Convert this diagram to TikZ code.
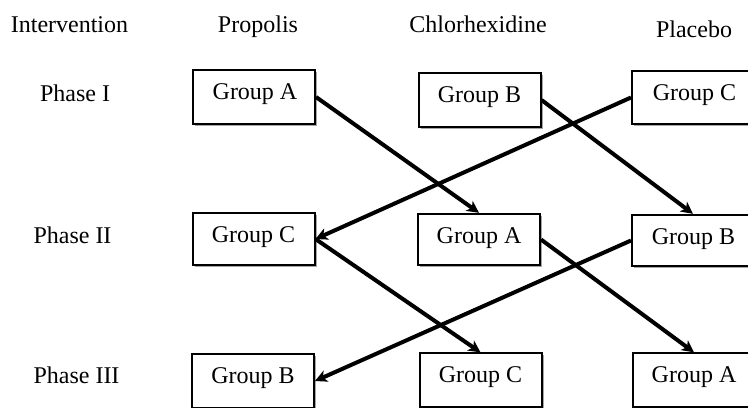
\documentclass[tikz,border=0pt]{standalone}
\usepackage{fontspec}
\setmainfont{Liberation Serif}
\usetikzlibrary{arrows.meta,shadows}
\begin{document}
\begin{tikzpicture}[x=0.75pt,y=-0.75pt,
  grp/.style={draw=black, line width=1.5pt, fill=white, inner sep=0pt,
    minimum width=91.5pt, minimum height=40pt,
    drop shadow={shadow xshift=1.5pt, shadow yshift=-1.5pt, opacity=0.35, fill=black}},
  txt/.style={font=\fontsize{18}{22}\selectfont, inner sep=0pt, anchor=base},
  link/.style={line width=3pt, -{Stealth[length=9pt,width=9pt,inset=2.5pt]}}]
\useasboundingbox (0,0) rectangle (748,407);
\clip (0,0) rectangle (748,407);
\fill[white] (0,0) rectangle (748,407);
% headers
\node[txt] (hInt) at (69.5,32) {Intervention};
\node[txt] (hPro) at (258,32) {Propolis};
\node[txt] (hChl) at (478,32) {Chlorhexidine};
\node[txt] (hPla) at (694,37) {Placebo};
\node[txt] (p1) at (75,101) {Phase I};
\node[txt] (p2) at (72.5,243) {Phase II};
\node[txt] (p3) at (76.5,383) {Phase III};
% boxes
\node[grp] (A1) at (254,97) {};
\node[grp] (B1) at (479.5,100) {};
\node[grp] (C1) at (693,97.5) {};
\node[grp, minimum height=39pt] (C2) at (253.5,239) {};
\node[grp, minimum height=38.5pt] (A2) at (479,239.5) {};
\node[grp, minimum height=38.5pt] (B2) at (693,240.5) {};
\node[grp] (B3) at (253,381) {};
\node[grp] (C3) at (480.5,380) {};
\node[grp] (A3) at (694,380) {};
% box texts
\node[txt] (tA1) at (255,99) {Group A};
\node[txt] (tB1) at (479.5,102) {Group B};
\node[txt] (tC1) at (694.5,100) {Group C};
\node[txt] (tC2) at (253.5,242) {Group C};
\node[txt] (tA2) at (479,243) {Group A};
\node[txt] (tB2) at (693.5,244) {Group B};
\node[txt] (tB3) at (253,383) {Group B};
\node[txt] (tC3) at (480.5,382) {Group C};
\node[txt] (tA3) at (694,382) {Group A};
% arrows
\draw[link] (A1.east) -- (A2.north);
\draw[link] (B1.east) -- (B2.north);
\draw[link] (C1.west) -- (C2.east);
\draw[link] (C2.east) -- (C3.north);
\draw[link] (A2.east) -- (A3.north);
\draw[link] (B2.west) -- (B3.east);
\end{tikzpicture}
\end{document}
